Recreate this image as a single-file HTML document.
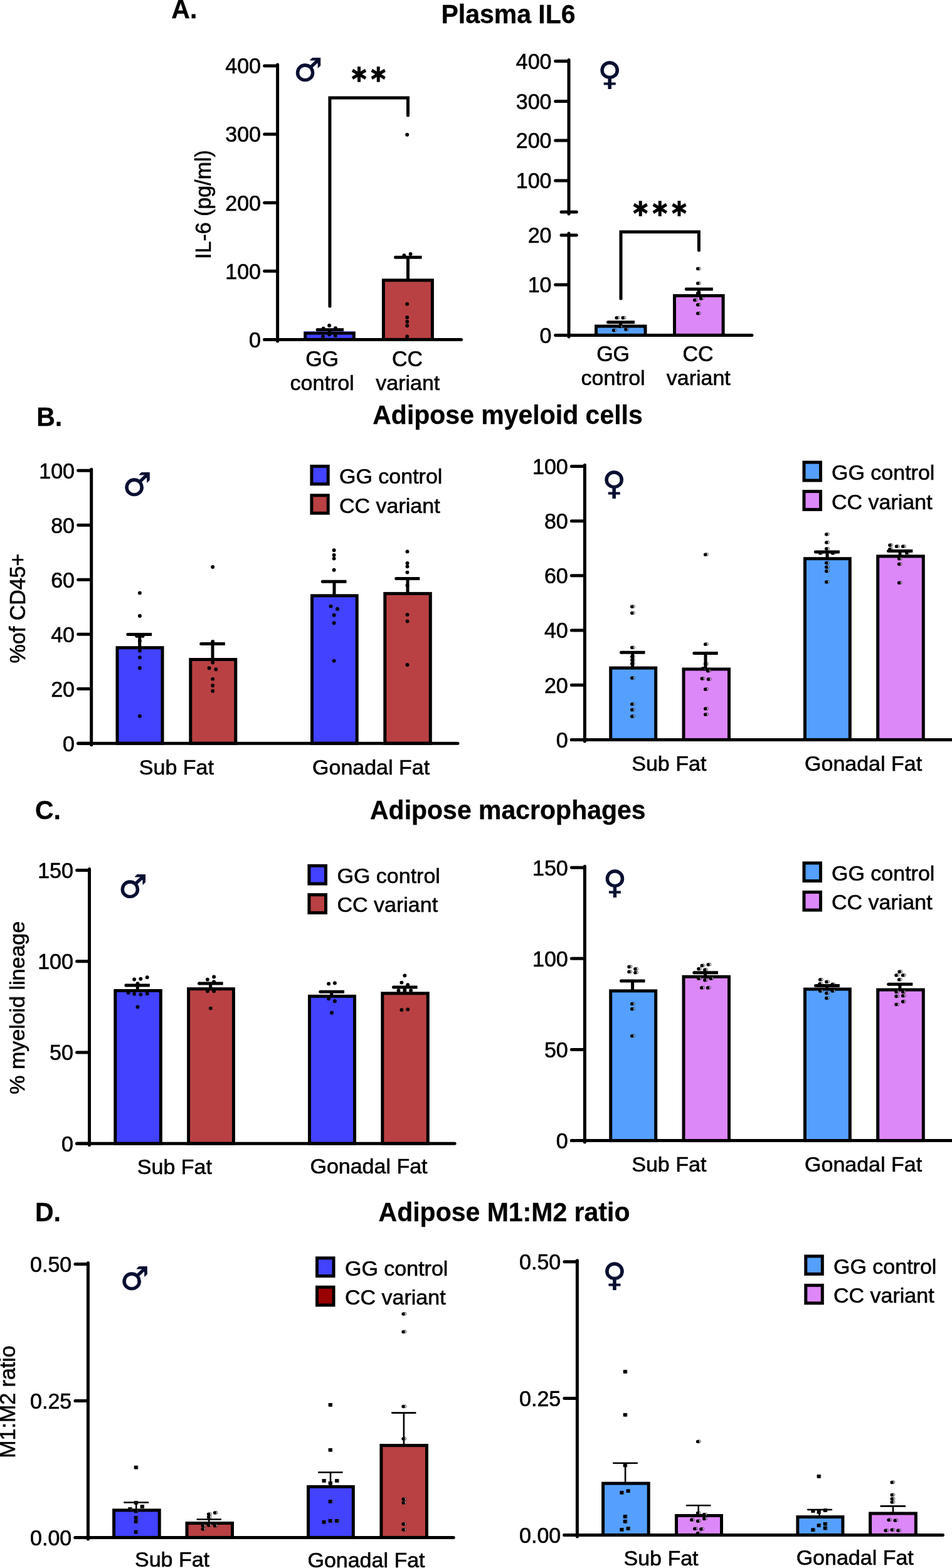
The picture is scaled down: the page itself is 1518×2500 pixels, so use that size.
<!DOCTYPE html>
<html lang="en">
<head>
<meta charset="utf-8">
<title>Figure: Plasma IL6 and adipose myeloid cells</title>
<style>
html,body{margin:0;padding:0;background:#fff;}
body{width:1518px;}
svg{display:block;}
svg text{font-family:"Liberation Sans", Arial, Helvetica, sans-serif;}
</style>
</head>
<body>
<svg width="1518" height="2500" viewBox="0 0 1518 2500" role="img" aria-label="Bar charts of plasma IL6 and adipose myeloid cells, macrophages and M1:M2 ratio in GG control and CC variant mice">
<rect width="1518" height="2500" fill="#fff"/>
<text transform="translate(273.3 29.4) scale(1 1.04)" font-size="41" text-anchor="start" stroke="#000" stroke-width="0.3" font-weight="bold">A.</text>
<text transform="translate(810.5 37.3) scale(1 1.02)" font-size="41" text-anchor="middle" stroke="#000" stroke-width="0.3" font-weight="bold">Plasma IL6</text>
<text transform="translate(58.2 679.3) scale(1 1.04)" font-size="41" text-anchor="start" stroke="#000" stroke-width="0.3" font-weight="bold">B.</text>
<text transform="translate(809.5 676) scale(1 1.015)" font-size="41" text-anchor="middle" stroke="#000" stroke-width="0.3" font-weight="bold">Adipose myeloid cells</text>
<text transform="translate(56 1305.6) scale(1 1.04)" font-size="41" text-anchor="start" stroke="#000" stroke-width="0.3" font-weight="bold">C.</text>
<text transform="translate(809.8 1306) scale(1 1.015)" font-size="41" text-anchor="middle" stroke="#000" stroke-width="0.3" font-weight="bold">Adipose macrophages</text>
<text transform="translate(56 1946.8) scale(1 1.04)" font-size="41" text-anchor="start" stroke="#000" stroke-width="0.3" font-weight="bold">D.</text>
<text transform="translate(804 1946.8) scale(1 1.02)" font-size="41" text-anchor="middle" stroke="#000" stroke-width="0.3" font-weight="bold">Adipose M1:M2 ratio</text>
<rect x="486.7" y="531.1" width="77.6" height="10.3" fill="#4242ff" stroke="#000" stroke-width="5"/>
<line x1="484.6" y1="528.5" x2="566.4" y2="528.5" stroke="#6c6cf7" stroke-width="0.9" stroke-linecap="butt"/>
<rect x="611.4" y="446.8" width="78" height="94.6" fill="#b94144" stroke="#000" stroke-width="5"/>
<circle cx="649.2" cy="214.7" r="2.95"/>
<circle cx="644.4" cy="407.3" r="2.95"/>
<circle cx="654.6" cy="404.9" r="2.95"/>
<circle cx="649.2" cy="484.8" r="2.95"/>
<circle cx="649.2" cy="506" r="2.95"/>
<circle cx="649.2" cy="512.7" r="2.95"/>
<circle cx="649.2" cy="519.2" r="2.95"/>
<circle cx="649.2" cy="536.5" r="2.95"/>
<circle cx="525.1" cy="519" r="2.95"/>
<circle cx="515" cy="536.5" r="2.95"/>
<circle cx="525.1" cy="533.6" r="2.95"/>
<circle cx="534.7" cy="535.3" r="2.95"/>
<circle cx="515.7" cy="523.7" r="2.95"/>
<circle cx="535" cy="523.3" r="2.95"/>
<line x1="525.6" y1="525.7" x2="525.6" y2="530" stroke="#000" stroke-width="5" stroke-linecap="butt"/>
<line x1="506" y1="525.7" x2="548" y2="525.7" stroke="#000" stroke-width="5" stroke-linecap="butt"/>
<circle cx="506" cy="525.7" r="2.5"/>
<line x1="650.5" y1="410.2" x2="650.5" y2="446" stroke="#000" stroke-width="5" stroke-linecap="butt"/>
<line x1="630.5" y1="410.2" x2="672.6" y2="410.2" stroke="#000" stroke-width="5" stroke-linecap="butt"/>
<circle cx="630.5" cy="410.2" r="2.5"/>
<line x1="421.7" y1="541.4" x2="735.5" y2="541.4" stroke="#000" stroke-width="5" stroke-linecap="round"/>
<line x1="442.6" y1="103" x2="442.6" y2="543.9" stroke="#000" stroke-width="5" stroke-linecap="round"/>
<line x1="421.7" y1="105" x2="441.6" y2="105" stroke="#000" stroke-width="5" stroke-linecap="round"/>
<text transform="translate(416 117.3) scale(1 1.04)" font-size="34" text-anchor="end" stroke="#000" stroke-width="0.6">400</text>
<line x1="421.7" y1="214.1" x2="441.6" y2="214.1" stroke="#000" stroke-width="5" stroke-linecap="round"/>
<text transform="translate(416 226.4) scale(1 1.04)" font-size="34" text-anchor="end" stroke="#000" stroke-width="0.6">300</text>
<line x1="421.7" y1="323.2" x2="441.6" y2="323.2" stroke="#000" stroke-width="5" stroke-linecap="round"/>
<text transform="translate(416 335.5) scale(1 1.04)" font-size="34" text-anchor="end" stroke="#000" stroke-width="0.6">200</text>
<line x1="421.7" y1="432.3" x2="441.6" y2="432.3" stroke="#000" stroke-width="5" stroke-linecap="round"/>
<text transform="translate(416 444.6) scale(1 1.04)" font-size="34" text-anchor="end" stroke="#000" stroke-width="0.6">100</text>
<line x1="421.7" y1="541.4" x2="441.6" y2="541.4" stroke="#000" stroke-width="5" stroke-linecap="round"/>
<text transform="translate(416 553.7) scale(1 1.04)" font-size="34" text-anchor="end" stroke="#000" stroke-width="0.6">0</text>
<polyline points="525.9,488.3 525.9,155.9 650.5,155.9 650.5,183.9" fill="none" stroke="#000" stroke-width="5" stroke-linecap="round" stroke-linejoin="miter"/>
<text transform="translate(558.89 143.91) scale(0.9 1)" x="0 34.44" y="0" font-size="50" font-weight="bold" stroke="#000" stroke-width="1.3" style="font-family:&quot;DejaVu Sans Mono&quot;,monospace">**</text>
<text x="468.3" y="128.7" font-size="51" fill="#070e30" stroke="#070e30" stroke-width="1" stroke-linejoin="round" style="font-family:&quot;DejaVu Sans&quot;,sans-serif">♂</text>
<text transform="translate(336.4 326) rotate(-90) scale(1 1.02)" font-size="34" text-anchor="middle" stroke="#000" stroke-width="0.6">IL-6 (pg/ml)</text>
<text transform="translate(513.6 583.6) scale(1 1.04)" font-size="34" text-anchor="middle" stroke="#000" stroke-width="0.6">GG</text>
<text transform="translate(513.6 621.8) scale(1 1.0)" font-size="34" text-anchor="middle" stroke="#000" stroke-width="0.6">control</text>
<text transform="translate(649.5 583.6) scale(1 1.04)" font-size="34" text-anchor="middle" stroke="#000" stroke-width="0.6">CC</text>
<text transform="translate(650.3 621.8) scale(1 1.0)" font-size="34" text-anchor="middle" stroke="#000" stroke-width="0.6">variant</text>
<line x1="907" y1="95.6" x2="907" y2="341" stroke="#000" stroke-width="5" stroke-linecap="round"/>
<line x1="885.7" y1="97.6" x2="906" y2="97.6" stroke="#000" stroke-width="5" stroke-linecap="round"/>
<text transform="translate(879.5 109.8) scale(1 1.04)" font-size="34" text-anchor="end" stroke="#000" stroke-width="0.6">400</text>
<line x1="885.7" y1="161.5" x2="906" y2="161.5" stroke="#000" stroke-width="5" stroke-linecap="round"/>
<text transform="translate(879.5 173.7) scale(1 1.04)" font-size="34" text-anchor="end" stroke="#000" stroke-width="0.6">300</text>
<line x1="885.7" y1="224.1" x2="906" y2="224.1" stroke="#000" stroke-width="5" stroke-linecap="round"/>
<text transform="translate(879.5 236.3) scale(1 1.04)" font-size="34" text-anchor="end" stroke="#000" stroke-width="0.6">200</text>
<line x1="885.7" y1="288" x2="906" y2="288" stroke="#000" stroke-width="5" stroke-linecap="round"/>
<text transform="translate(879.5 300.2) scale(1 1.04)" font-size="34" text-anchor="end" stroke="#000" stroke-width="0.6">100</text>
<line x1="895" y1="338" x2="919.3" y2="338" stroke="#000" stroke-width="5" stroke-linecap="round"/>
<line x1="895" y1="375" x2="919.3" y2="375" stroke="#000" stroke-width="5" stroke-linecap="round"/>
<line x1="907" y1="372" x2="907" y2="537" stroke="#000" stroke-width="5" stroke-linecap="round"/>
<text transform="translate(879.5 387.2) scale(1 1.04)" font-size="34" text-anchor="end" stroke="#000" stroke-width="0.6">20</text>
<line x1="885.7" y1="454" x2="906" y2="454" stroke="#000" stroke-width="5" stroke-linecap="round"/>
<text transform="translate(879.5 466.2) scale(1 1.04)" font-size="34" text-anchor="end" stroke="#000" stroke-width="0.6">10</text>
<text transform="translate(879.5 546.6) scale(1 1.04)" font-size="34" text-anchor="end" stroke="#000" stroke-width="0.6">0</text>
<rect x="950.5" y="520.1" width="78.5" height="14.3" fill="#55a0ff" stroke="#000" stroke-width="5"/>
<rect x="1075.5" y="471.5" width="77.6" height="62.9" fill="#dd88f9" stroke="#000" stroke-width="5"/>
<circle cx="1115" cy="428.2" r="2.4" fill="#fff" fill-opacity="0.55" stroke="#000" stroke-width="0.65"/><circle cx="1112.7" cy="428.5" r="2.75"/>
<circle cx="1115" cy="451.5" r="2.4" fill="#fff" fill-opacity="0.55" stroke="#000" stroke-width="0.65"/><circle cx="1112.7" cy="451.8" r="2.75"/>
<circle cx="1115" cy="467.3" r="2.4" fill="#fff" fill-opacity="0.55" stroke="#000" stroke-width="0.65"/><circle cx="1112.7" cy="467.6" r="2.75"/>
<circle cx="1110" cy="478.2" r="2.4" fill="#fff" fill-opacity="0.55" stroke="#000" stroke-width="0.65"/><circle cx="1107.7" cy="478.5" r="2.75"/>
<circle cx="1120" cy="475.6" r="2.4" fill="#fff" fill-opacity="0.55" stroke="#000" stroke-width="0.65"/><circle cx="1117.7" cy="475.9" r="2.75"/>
<circle cx="1115" cy="485.6" r="2.4" fill="#fff" fill-opacity="0.55" stroke="#000" stroke-width="0.65"/><circle cx="1112.7" cy="485.9" r="2.75"/>
<circle cx="1115" cy="499.4" r="2.4" fill="#fff" fill-opacity="0.55" stroke="#000" stroke-width="0.65"/><circle cx="1112.7" cy="499.7" r="2.75"/>
<circle cx="985.5" cy="506.5" r="2.4" fill="#fff" fill-opacity="0.55" stroke="#000" stroke-width="0.65"/><circle cx="983.2" cy="506.8" r="2.75"/>
<circle cx="995.5" cy="506.5" r="2.4" fill="#fff" fill-opacity="0.55" stroke="#000" stroke-width="0.65"/><circle cx="993.2" cy="506.8" r="2.75"/>
<circle cx="980.8" cy="526.5" r="2.4" fill="#fff" fill-opacity="0.55" stroke="#000" stroke-width="0.65"/><circle cx="978.5" cy="526.8" r="2.75"/>
<circle cx="1000.2" cy="525" r="2.4" fill="#fff" fill-opacity="0.55" stroke="#000" stroke-width="0.65"/><circle cx="997.9" cy="525.3" r="2.75"/>
<circle cx="990.2" cy="520.3" r="2.4" fill="#fff" fill-opacity="0.55" stroke="#000" stroke-width="0.65"/><circle cx="987.9" cy="520.6" r="2.75"/>
<line x1="989.7" y1="513.8" x2="989.7" y2="519" stroke="#000" stroke-width="5" stroke-linecap="butt"/>
<line x1="969.5" y1="513.8" x2="1012" y2="513.8" stroke="#000" stroke-width="5" stroke-linecap="butt"/>
<circle cx="969.5" cy="513.8" r="2.5"/>
<line x1="1114.3" y1="460.9" x2="1114.3" y2="471" stroke="#000" stroke-width="5" stroke-linecap="butt"/>
<line x1="1094.3" y1="460.9" x2="1136.8" y2="460.9" stroke="#000" stroke-width="5" stroke-linecap="butt"/>
<circle cx="1094.3" cy="460.9" r="2.5"/>
<line x1="885.7" y1="534.4" x2="1199" y2="534.4" stroke="#000" stroke-width="5" stroke-linecap="round"/>
<polyline points="990,476 990,369.7 1114.4,369.7 1114.4,399" fill="none" stroke="#000" stroke-width="5" stroke-linecap="round" stroke-linejoin="miter"/>
<text transform="translate(1007.79 358.41) scale(0.9 1)" x="0 34.33 68.67" y="0" font-size="50" font-weight="bold" stroke="#000" stroke-width="1.3" style="font-family:&quot;DejaVu Sans Mono&quot;,monospace">***</text>
<text x="953.4" y="134.9" font-size="51" fill="#070e30" stroke="#070e30" stroke-width="1" stroke-linejoin="round" style="font-family:&quot;DejaVu Sans&quot;,sans-serif">♀</text>
<text transform="translate(977.6 576) scale(1 1.04)" font-size="34" text-anchor="middle" stroke="#000" stroke-width="0.6">GG</text>
<text transform="translate(977.6 614.4) scale(1 1.0)" font-size="34" text-anchor="middle" stroke="#000" stroke-width="0.6">control</text>
<text transform="translate(1113 576) scale(1 1.04)" font-size="34" text-anchor="middle" stroke="#000" stroke-width="0.6">CC</text>
<text transform="translate(1113.8 614.4) scale(1 1.0)" font-size="34" text-anchor="middle" stroke="#000" stroke-width="0.6">variant</text>
<rect x="187" y="1032.7" width="72" height="152.5" fill="#4242ff" stroke="#000" stroke-width="5"/>
<rect x="303.8" y="1051.5" width="72" height="133.7" fill="#b94144" stroke="#000" stroke-width="5"/>
<rect x="497.5" y="949.8" width="71.7" height="235.4" fill="#4242ff" stroke="#000" stroke-width="5"/>
<rect x="613.8" y="946.4" width="72.5" height="238.8" fill="#b94144" stroke="#000" stroke-width="5"/>
<circle cx="222.9" cy="945.4" r="2.95"/>
<circle cx="222.9" cy="982" r="2.95"/>
<circle cx="218.2" cy="1014" r="2.95"/>
<circle cx="227.5" cy="1014" r="2.95"/>
<circle cx="222.9" cy="1022" r="2.95"/>
<circle cx="222.9" cy="1037.6" r="2.95"/>
<circle cx="222.9" cy="1048.3" r="2.95"/>
<circle cx="222.9" cy="1065" r="2.95"/>
<circle cx="222.9" cy="1141.7" r="2.95"/>
<circle cx="339.2" cy="904" r="2.95"/>
<circle cx="339.2" cy="1023" r="2.95"/>
<circle cx="339.2" cy="1056.4" r="2.95"/>
<circle cx="333.6" cy="1065.2" r="2.95"/>
<circle cx="344.3" cy="1067.3" r="2.95"/>
<circle cx="339.2" cy="1082.6" r="2.95"/>
<circle cx="339.2" cy="1093" r="2.95"/>
<circle cx="339.2" cy="1101.8" r="2.95"/>
<circle cx="532.6" cy="877.3" r="2.95"/>
<circle cx="532.6" cy="885" r="2.95"/>
<circle cx="532.6" cy="890.6" r="2.95"/>
<circle cx="532.6" cy="908.8" r="2.95"/>
<circle cx="527.5" cy="966.6" r="2.95"/>
<circle cx="538" cy="970.9" r="2.95"/>
<circle cx="532.6" cy="980.7" r="2.95"/>
<circle cx="532.6" cy="993.3" r="2.95"/>
<circle cx="532.6" cy="1053.6" r="2.95"/>
<circle cx="649.5" cy="879.4" r="2.95"/>
<circle cx="649.5" cy="897.9" r="2.95"/>
<circle cx="649.5" cy="903.2" r="2.95"/>
<circle cx="649.5" cy="912.6" r="2.95"/>
<circle cx="649.5" cy="933.2" r="2.95"/>
<circle cx="649.5" cy="980" r="2.95"/>
<circle cx="649.5" cy="990.6" r="2.95"/>
<circle cx="649.5" cy="1060" r="2.95"/>
<line x1="222.7" y1="1011.4" x2="222.7" y2="1032" stroke="#000" stroke-width="5" stroke-linecap="butt"/>
<line x1="203.8" y1="1011.4" x2="242" y2="1011.4" stroke="#000" stroke-width="5" stroke-linecap="butt"/>
<circle cx="203.8" cy="1011.4" r="2.5"/>
<line x1="339" y1="1026.4" x2="339" y2="1051" stroke="#000" stroke-width="5" stroke-linecap="butt"/>
<line x1="320.7" y1="1026.4" x2="358.8" y2="1026.4" stroke="#000" stroke-width="5" stroke-linecap="butt"/>
<circle cx="320.7" cy="1026.4" r="2.5"/>
<line x1="533" y1="927.3" x2="533" y2="949" stroke="#000" stroke-width="5" stroke-linecap="butt"/>
<line x1="514.3" y1="927.3" x2="552.5" y2="927.3" stroke="#000" stroke-width="5" stroke-linecap="butt"/>
<circle cx="514.3" cy="927.3" r="2.5"/>
<line x1="650" y1="922.5" x2="650" y2="946" stroke="#000" stroke-width="5" stroke-linecap="butt"/>
<line x1="631.7" y1="922.5" x2="669.3" y2="922.5" stroke="#000" stroke-width="5" stroke-linecap="butt"/>
<circle cx="631.7" cy="922.5" r="2.5"/>
<line x1="124.7" y1="1185.2" x2="729.9" y2="1185.2" stroke="#000" stroke-width="5" stroke-linecap="round"/>
<line x1="145.7" y1="748.2" x2="145.7" y2="1187.7" stroke="#000" stroke-width="5" stroke-linecap="round"/>
<line x1="124.7" y1="750.2" x2="144.7" y2="750.2" stroke="#000" stroke-width="5" stroke-linecap="round"/>
<text transform="translate(119 762.5) scale(1 1.04)" font-size="34" text-anchor="end" stroke="#000" stroke-width="0.6">100</text>
<line x1="124.7" y1="837.2" x2="144.7" y2="837.2" stroke="#000" stroke-width="5" stroke-linecap="round"/>
<text transform="translate(119 849.5) scale(1 1.04)" font-size="34" text-anchor="end" stroke="#000" stroke-width="0.6">80</text>
<line x1="124.7" y1="924.2" x2="144.7" y2="924.2" stroke="#000" stroke-width="5" stroke-linecap="round"/>
<text transform="translate(119 936.5) scale(1 1.04)" font-size="34" text-anchor="end" stroke="#000" stroke-width="0.6">60</text>
<line x1="124.7" y1="1011.2" x2="144.7" y2="1011.2" stroke="#000" stroke-width="5" stroke-linecap="round"/>
<text transform="translate(119 1023.5) scale(1 1.04)" font-size="34" text-anchor="end" stroke="#000" stroke-width="0.6">40</text>
<line x1="124.7" y1="1098.2" x2="144.7" y2="1098.2" stroke="#000" stroke-width="5" stroke-linecap="round"/>
<text transform="translate(119 1110.5) scale(1 1.04)" font-size="34" text-anchor="end" stroke="#000" stroke-width="0.6">20</text>
<line x1="124.7" y1="1185.2" x2="144.7" y2="1185.2" stroke="#000" stroke-width="5" stroke-linecap="round"/>
<text transform="translate(119 1197.5) scale(1 1.04)" font-size="34" text-anchor="end" stroke="#000" stroke-width="0.6">0</text>
<text x="195.8" y="790" font-size="51" fill="#070e30" stroke="#070e30" stroke-width="1" stroke-linejoin="round" style="font-family:&quot;DejaVu Sans&quot;,sans-serif">♂</text>
<rect x="496.9" y="743.4" width="26.3" height="28.4" fill="#4242ff" stroke="#000" stroke-width="5"/>
<rect x="496.9" y="789.8" width="26.3" height="28.4" fill="#b94144" stroke="#000" stroke-width="5"/>
<text transform="translate(541 771.4) scale(1 1.0)" font-size="34" text-anchor="start" stroke="#000" stroke-width="0.6">GG control</text>
<text transform="translate(541 817.6) scale(1 1.0)" font-size="34" text-anchor="start" stroke="#000" stroke-width="0.6">CC variant</text>
<text transform="translate(40 970) rotate(-90) scale(1 1.04)" font-size="34" text-anchor="middle" stroke="#000" stroke-width="0.6">%of CD45+</text>
<text transform="translate(281.4 1235) scale(1 1.0)" font-size="34" text-anchor="middle" stroke="#000" stroke-width="0.6">Sub Fat</text>
<text transform="translate(591.6 1235) scale(1 1.0)" font-size="34" text-anchor="middle" stroke="#000" stroke-width="0.6">Gonadal Fat</text>
<rect x="973.7" y="1065" width="72" height="114.4" fill="#55a0ff" stroke="#000" stroke-width="5"/>
<rect x="1090" y="1066.9" width="72.5" height="112.5" fill="#dd88f9" stroke="#000" stroke-width="5"/>
<rect x="1283.5" y="890.7" width="71.8" height="288.7" fill="#55a0ff" stroke="#000" stroke-width="5"/>
<rect x="1399.7" y="886.9" width="72.6" height="292.5" fill="#dd88f9" stroke="#000" stroke-width="5"/>
<circle cx="1127" cy="883.9" r="2.4" fill="#fff" fill-opacity="0.55" stroke="#000" stroke-width="0.65"/><circle cx="1124.7" cy="884.2" r="2.75"/>
<circle cx="1010" cy="967" r="2.4" fill="#fff" fill-opacity="0.55" stroke="#000" stroke-width="0.65"/><circle cx="1007.7" cy="967.3" r="2.75"/>
<circle cx="1010" cy="977.2" r="2.4" fill="#fff" fill-opacity="0.55" stroke="#000" stroke-width="0.65"/><circle cx="1007.7" cy="977.5" r="2.75"/>
<circle cx="1010" cy="1032.3" r="2.4" fill="#fff" fill-opacity="0.55" stroke="#000" stroke-width="0.65"/><circle cx="1007.7" cy="1032.6" r="2.75"/>
<circle cx="1010" cy="1046.7" r="2.4" fill="#fff" fill-opacity="0.55" stroke="#000" stroke-width="0.65"/><circle cx="1007.7" cy="1047" r="2.75"/>
<circle cx="1010" cy="1052.1" r="2.4" fill="#fff" fill-opacity="0.55" stroke="#000" stroke-width="0.65"/><circle cx="1007.7" cy="1052.4" r="2.75"/>
<circle cx="1010" cy="1057.9" r="2.4" fill="#fff" fill-opacity="0.55" stroke="#000" stroke-width="0.65"/><circle cx="1007.7" cy="1058.2" r="2.75"/>
<circle cx="1010" cy="1080.7" r="2.4" fill="#fff" fill-opacity="0.55" stroke="#000" stroke-width="0.65"/><circle cx="1007.7" cy="1081" r="2.75"/>
<circle cx="1010" cy="1122.4" r="2.4" fill="#fff" fill-opacity="0.55" stroke="#000" stroke-width="0.65"/><circle cx="1007.7" cy="1122.7" r="2.75"/>
<circle cx="1010" cy="1131.5" r="2.4" fill="#fff" fill-opacity="0.55" stroke="#000" stroke-width="0.65"/><circle cx="1007.7" cy="1131.8" r="2.75"/>
<circle cx="1010" cy="1141.9" r="2.4" fill="#fff" fill-opacity="0.55" stroke="#000" stroke-width="0.65"/><circle cx="1007.7" cy="1142.2" r="2.75"/>
<circle cx="1127" cy="1026.9" r="2.4" fill="#fff" fill-opacity="0.55" stroke="#000" stroke-width="0.65"/><circle cx="1124.7" cy="1027.2" r="2.75"/>
<circle cx="1127" cy="1058.2" r="2.4" fill="#fff" fill-opacity="0.55" stroke="#000" stroke-width="0.65"/><circle cx="1124.7" cy="1058.5" r="2.75"/>
<circle cx="1123" cy="1065.4" r="2.4" fill="#fff" fill-opacity="0.55" stroke="#000" stroke-width="0.65"/><circle cx="1120.7" cy="1065.7" r="2.75"/>
<circle cx="1131" cy="1069.4" r="2.4" fill="#fff" fill-opacity="0.55" stroke="#000" stroke-width="0.65"/><circle cx="1128.7" cy="1069.7" r="2.75"/>
<circle cx="1121.6" cy="1081.7" r="2.4" fill="#fff" fill-opacity="0.55" stroke="#000" stroke-width="0.65"/><circle cx="1119.3" cy="1082" r="2.75"/>
<circle cx="1131.7" cy="1082.8" r="2.4" fill="#fff" fill-opacity="0.55" stroke="#000" stroke-width="0.65"/><circle cx="1129.4" cy="1083.1" r="2.75"/>
<circle cx="1127" cy="1098.6" r="2.4" fill="#fff" fill-opacity="0.55" stroke="#000" stroke-width="0.65"/><circle cx="1124.7" cy="1098.9" r="2.75"/>
<circle cx="1127" cy="1129.6" r="2.4" fill="#fff" fill-opacity="0.55" stroke="#000" stroke-width="0.65"/><circle cx="1124.7" cy="1129.9" r="2.75"/>
<circle cx="1127" cy="1139" r="2.4" fill="#fff" fill-opacity="0.55" stroke="#000" stroke-width="0.65"/><circle cx="1124.7" cy="1139.3" r="2.75"/>
<circle cx="1320" cy="851.6" r="2.4" fill="#fff" fill-opacity="0.55" stroke="#000" stroke-width="0.65"/><circle cx="1317.7" cy="851.9" r="2.75"/>
<circle cx="1320" cy="864.7" r="2.4" fill="#fff" fill-opacity="0.55" stroke="#000" stroke-width="0.65"/><circle cx="1317.7" cy="865" r="2.75"/>
<circle cx="1320" cy="874.8" r="2.4" fill="#fff" fill-opacity="0.55" stroke="#000" stroke-width="0.65"/><circle cx="1317.7" cy="875.1" r="2.75"/>
<circle cx="1310" cy="881.7" r="2.4" fill="#fff" fill-opacity="0.55" stroke="#000" stroke-width="0.65"/><circle cx="1307.7" cy="882" r="2.75"/>
<circle cx="1330" cy="881.7" r="2.4" fill="#fff" fill-opacity="0.55" stroke="#000" stroke-width="0.65"/><circle cx="1327.7" cy="882" r="2.75"/>
<circle cx="1448" cy="881.2" r="2.4" fill="#fff" fill-opacity="0.55" stroke="#000" stroke-width="0.65"/><circle cx="1445.7" cy="881.5" r="2.75"/>
<circle cx="1320" cy="897.3" r="2.4" fill="#fff" fill-opacity="0.55" stroke="#000" stroke-width="0.65"/><circle cx="1317.7" cy="897.6" r="2.75"/>
<circle cx="1320" cy="903.9" r="2.4" fill="#fff" fill-opacity="0.55" stroke="#000" stroke-width="0.65"/><circle cx="1317.7" cy="904.2" r="2.75"/>
<circle cx="1320" cy="910.4" r="2.4" fill="#fff" fill-opacity="0.55" stroke="#000" stroke-width="0.65"/><circle cx="1317.7" cy="910.7" r="2.75"/>
<circle cx="1320" cy="927.6" r="2.4" fill="#fff" fill-opacity="0.55" stroke="#000" stroke-width="0.65"/><circle cx="1317.7" cy="927.9" r="2.75"/>
<circle cx="1421.2" cy="869" r="2.4" fill="#fff" fill-opacity="0.55" stroke="#000" stroke-width="0.65"/><circle cx="1418.9" cy="869.3" r="2.75"/>
<circle cx="1431.8" cy="871" r="2.4" fill="#fff" fill-opacity="0.55" stroke="#000" stroke-width="0.65"/><circle cx="1429.5" cy="871.3" r="2.75"/>
<circle cx="1442" cy="871" r="2.4" fill="#fff" fill-opacity="0.55" stroke="#000" stroke-width="0.65"/><circle cx="1439.7" cy="871.3" r="2.75"/>
<circle cx="1421.2" cy="875.3" r="2.4" fill="#fff" fill-opacity="0.55" stroke="#000" stroke-width="0.65"/><circle cx="1418.9" cy="875.6" r="2.75"/>
<circle cx="1435.9" cy="890.5" r="2.4" fill="#fff" fill-opacity="0.55" stroke="#000" stroke-width="0.65"/><circle cx="1433.6" cy="890.8" r="2.75"/>
<circle cx="1435.9" cy="899.3" r="2.4" fill="#fff" fill-opacity="0.55" stroke="#000" stroke-width="0.65"/><circle cx="1433.6" cy="899.6" r="2.75"/>
<circle cx="1435.9" cy="928.9" r="2.4" fill="#fff" fill-opacity="0.55" stroke="#000" stroke-width="0.65"/><circle cx="1433.6" cy="929.2" r="2.75"/>
<line x1="1008.6" y1="1040.3" x2="1008.6" y2="1064" stroke="#000" stroke-width="5" stroke-linecap="butt"/>
<line x1="990.5" y1="1040.3" x2="1028.5" y2="1040.3" stroke="#000" stroke-width="5" stroke-linecap="butt"/>
<circle cx="990.5" cy="1040.3" r="2.5"/>
<line x1="1125" y1="1041.4" x2="1125" y2="1066" stroke="#000" stroke-width="5" stroke-linecap="butt"/>
<line x1="1106.8" y1="1041.4" x2="1144.7" y2="1041.4" stroke="#000" stroke-width="5" stroke-linecap="butt"/>
<circle cx="1106.8" cy="1041.4" r="2.5"/>
<line x1="1319" y1="879.9" x2="1319" y2="890" stroke="#000" stroke-width="5" stroke-linecap="butt"/>
<line x1="1300.4" y1="879.9" x2="1338.9" y2="879.9" stroke="#000" stroke-width="5" stroke-linecap="butt"/>
<circle cx="1300.4" cy="879.9" r="2.5"/>
<line x1="1435" y1="878.6" x2="1435" y2="886" stroke="#000" stroke-width="5" stroke-linecap="butt"/>
<line x1="1416.5" y1="878.6" x2="1455.3" y2="878.6" stroke="#000" stroke-width="5" stroke-linecap="butt"/>
<circle cx="1416.5" cy="878.6" r="2.5"/>
<line x1="911.4" y1="1179.4" x2="1522.5" y2="1179.4" stroke="#000" stroke-width="5" stroke-linecap="round"/>
<line x1="932.4" y1="741.5" x2="932.4" y2="1181.9" stroke="#000" stroke-width="5" stroke-linecap="round"/>
<line x1="911.4" y1="743.5" x2="931.4" y2="743.5" stroke="#000" stroke-width="5" stroke-linecap="round"/>
<text transform="translate(905.7 755.8) scale(1 1.04)" font-size="34" text-anchor="end" stroke="#000" stroke-width="0.6">100</text>
<line x1="911.4" y1="830.68" x2="931.4" y2="830.68" stroke="#000" stroke-width="5" stroke-linecap="round"/>
<text transform="translate(905.7 842.98) scale(1 1.04)" font-size="34" text-anchor="end" stroke="#000" stroke-width="0.6">80</text>
<line x1="911.4" y1="917.86" x2="931.4" y2="917.86" stroke="#000" stroke-width="5" stroke-linecap="round"/>
<text transform="translate(905.7 930.16) scale(1 1.04)" font-size="34" text-anchor="end" stroke="#000" stroke-width="0.6">60</text>
<line x1="911.4" y1="1005.04" x2="931.4" y2="1005.04" stroke="#000" stroke-width="5" stroke-linecap="round"/>
<text transform="translate(905.7 1017.34) scale(1 1.04)" font-size="34" text-anchor="end" stroke="#000" stroke-width="0.6">40</text>
<line x1="911.4" y1="1092.22" x2="931.4" y2="1092.22" stroke="#000" stroke-width="5" stroke-linecap="round"/>
<text transform="translate(905.7 1104.52) scale(1 1.04)" font-size="34" text-anchor="end" stroke="#000" stroke-width="0.6">20</text>
<line x1="911.4" y1="1179.4" x2="931.4" y2="1179.4" stroke="#000" stroke-width="5" stroke-linecap="round"/>
<text transform="translate(905.7 1191.7) scale(1 1.04)" font-size="34" text-anchor="end" stroke="#000" stroke-width="0.6">0</text>
<text x="960.5" y="787.7" font-size="51" fill="#070e30" stroke="#070e30" stroke-width="1" stroke-linejoin="round" style="font-family:&quot;DejaVu Sans&quot;,sans-serif">♀</text>
<rect x="1282" y="737.1" width="26.5" height="28.9" fill="#55a0ff" stroke="#000" stroke-width="5"/>
<rect x="1282" y="783.5" width="26.5" height="28.9" fill="#dd88f9" stroke="#000" stroke-width="5"/>
<text transform="translate(1326 765.1) scale(1 1.0)" font-size="34" text-anchor="start" stroke="#000" stroke-width="0.6">GG control</text>
<text transform="translate(1326 811.8) scale(1 1.0)" font-size="34" text-anchor="start" stroke="#000" stroke-width="0.6">CC variant</text>
<text transform="translate(1066.8 1228.8) scale(1 1.0)" font-size="34" text-anchor="middle" stroke="#000" stroke-width="0.6">Sub Fat</text>
<text transform="translate(1376.6 1228.5) scale(1 1.0)" font-size="34" text-anchor="middle" stroke="#000" stroke-width="0.6">Gonadal Fat</text>
<rect x="183.8" y="1579.5" width="72.5" height="243.8" fill="#4242ff" stroke="#000" stroke-width="5"/>
<rect x="300.6" y="1576.7" width="71.8" height="246.6" fill="#b94144" stroke="#000" stroke-width="5"/>
<rect x="493.5" y="1588.4" width="72" height="234.9" fill="#4242ff" stroke="#000" stroke-width="5"/>
<rect x="609.8" y="1583.8" width="72.5" height="239.5" fill="#b94144" stroke="#000" stroke-width="5"/>
<circle cx="214.1" cy="1561.5" r="2.95"/>
<circle cx="224.3" cy="1560.7" r="2.95"/>
<circle cx="234.7" cy="1558.3" r="2.95"/>
<circle cx="219.5" cy="1568.2" r="2.95"/>
<circle cx="204.7" cy="1582.9" r="2.95"/>
<circle cx="214.1" cy="1584.8" r="2.95"/>
<circle cx="224.3" cy="1585.6" r="2.95"/>
<circle cx="234.7" cy="1584.2" r="2.95"/>
<circle cx="219.5" cy="1605.5" r="2.95"/>
<circle cx="341.1" cy="1557.5" r="2.95"/>
<circle cx="330.9" cy="1561.8" r="2.95"/>
<circle cx="341.1" cy="1565.5" r="2.95"/>
<circle cx="335.8" cy="1574.9" r="2.95"/>
<circle cx="330.9" cy="1580.2" r="2.95"/>
<circle cx="341.1" cy="1580.2" r="2.95"/>
<circle cx="335.8" cy="1607.6" r="2.95"/>
<circle cx="524.1" cy="1568.5" r="2.95"/>
<circle cx="533.9" cy="1567.4" r="2.95"/>
<circle cx="524.1" cy="1592.3" r="2.95"/>
<circle cx="533.9" cy="1596.3" r="2.95"/>
<circle cx="528.9" cy="1614.8" r="2.95"/>
<circle cx="645.4" cy="1555.4" r="2.95"/>
<circle cx="640.4" cy="1566.6" r="2.95"/>
<circle cx="650.2" cy="1570.1" r="2.95"/>
<circle cx="635.5" cy="1579.2" r="2.95"/>
<circle cx="645.4" cy="1579.2" r="2.95"/>
<circle cx="655.1" cy="1579.2" r="2.95"/>
<circle cx="640.4" cy="1610.2" r="2.95"/>
<circle cx="650.2" cy="1609.4" r="2.95"/>
<line x1="219.3" y1="1571" x2="219.3" y2="1579" stroke="#000" stroke-width="5" stroke-linecap="butt"/>
<line x1="200.9" y1="1571" x2="238.8" y2="1571" stroke="#000" stroke-width="5" stroke-linecap="butt"/>
<circle cx="200.9" cy="1571" r="2.5"/>
<line x1="335.6" y1="1568.1" x2="335.6" y2="1576" stroke="#000" stroke-width="5" stroke-linecap="butt"/>
<line x1="317.5" y1="1568.1" x2="355.6" y2="1568.1" stroke="#000" stroke-width="5" stroke-linecap="butt"/>
<circle cx="317.5" cy="1568.1" r="2.5"/>
<line x1="528.7" y1="1581.3" x2="528.7" y2="1588" stroke="#000" stroke-width="5" stroke-linecap="butt"/>
<line x1="510.8" y1="1581.3" x2="549" y2="1581.3" stroke="#000" stroke-width="5" stroke-linecap="butt"/>
<circle cx="510.8" cy="1581.3" r="2.5"/>
<line x1="645.2" y1="1574.1" x2="645.2" y2="1583" stroke="#000" stroke-width="5" stroke-linecap="butt"/>
<line x1="627.4" y1="1574.1" x2="665.6" y2="1574.1" stroke="#000" stroke-width="5" stroke-linecap="butt"/>
<circle cx="627.4" cy="1574.1" r="2.5"/>
<line x1="122.6" y1="1823.3" x2="725.1" y2="1823.3" stroke="#000" stroke-width="5" stroke-linecap="round"/>
<line x1="142.5" y1="1385.4" x2="142.5" y2="1825.8" stroke="#000" stroke-width="5" stroke-linecap="round"/>
<line x1="122.6" y1="1387.4" x2="141.5" y2="1387.4" stroke="#000" stroke-width="5" stroke-linecap="round"/>
<text transform="translate(116.9 1399.7) scale(1 1.04)" font-size="34" text-anchor="end" stroke="#000" stroke-width="0.6">150</text>
<line x1="122.6" y1="1532.7" x2="141.5" y2="1532.7" stroke="#000" stroke-width="5" stroke-linecap="round"/>
<text transform="translate(116.9 1545) scale(1 1.04)" font-size="34" text-anchor="end" stroke="#000" stroke-width="0.6">100</text>
<line x1="122.6" y1="1678" x2="141.5" y2="1678" stroke="#000" stroke-width="5" stroke-linecap="round"/>
<text transform="translate(116.9 1690.3) scale(1 1.04)" font-size="34" text-anchor="end" stroke="#000" stroke-width="0.6">50</text>
<line x1="122.6" y1="1823.3" x2="141.5" y2="1823.3" stroke="#000" stroke-width="5" stroke-linecap="round"/>
<text transform="translate(116.9 1835.6) scale(1 1.04)" font-size="34" text-anchor="end" stroke="#000" stroke-width="0.6">0</text>
<text x="189.1" y="1430.8" font-size="51" fill="#070e30" stroke="#070e30" stroke-width="1" stroke-linejoin="round" style="font-family:&quot;DejaVu Sans&quot;,sans-serif">♂</text>
<rect x="492.9" y="1380.4" width="26.6" height="28.7" fill="#4242ff" stroke="#000" stroke-width="5"/>
<rect x="492.9" y="1426.6" width="26.6" height="28.7" fill="#b94144" stroke="#000" stroke-width="5"/>
<text transform="translate(537.5 1408) scale(1 1.0)" font-size="34" text-anchor="start" stroke="#000" stroke-width="0.6">GG control</text>
<text transform="translate(537.5 1454.3) scale(1 1.0)" font-size="34" text-anchor="start" stroke="#000" stroke-width="0.6">CC variant</text>
<text transform="translate(38.5 1606.8) rotate(-90) scale(1 1.0)" font-size="34" text-anchor="middle" stroke="#000" stroke-width="0.6">% myeloid lineage</text>
<text transform="translate(278.4 1871.5) scale(1 1.0)" font-size="34" text-anchor="middle" stroke="#000" stroke-width="0.6">Sub Fat</text>
<text transform="translate(588 1871.4) scale(1 1.0)" font-size="34" text-anchor="middle" stroke="#000" stroke-width="0.6">Gonadal Fat</text>
<rect x="973.7" y="1579.9" width="72" height="238.69" fill="#55a0ff" stroke="#000" stroke-width="5"/>
<rect x="1090" y="1557.3" width="72.5" height="261.29" fill="#dd88f9" stroke="#000" stroke-width="5"/>
<rect x="1283.5" y="1577.1" width="71.8" height="241.49" fill="#55a0ff" stroke="#000" stroke-width="5"/>
<rect x="1399.7" y="1578.1" width="72.6" height="240.49" fill="#dd88f9" stroke="#000" stroke-width="5"/>
<circle cx="1005.3" cy="1541.1" r="2.4" fill="#fff" fill-opacity="0.55" stroke="#000" stroke-width="0.65"/><circle cx="1003" cy="1541.4" r="2.75"/>
<circle cx="1005.3" cy="1549.2" r="2.4" fill="#fff" fill-opacity="0.55" stroke="#000" stroke-width="0.65"/><circle cx="1003" cy="1549.5" r="2.75"/>
<circle cx="1015.2" cy="1544.6" r="2.4" fill="#fff" fill-opacity="0.55" stroke="#000" stroke-width="0.65"/><circle cx="1012.9" cy="1544.9" r="2.75"/>
<circle cx="1015.2" cy="1550.5" r="2.4" fill="#fff" fill-opacity="0.55" stroke="#000" stroke-width="0.65"/><circle cx="1012.9" cy="1550.8" r="2.75"/>
<circle cx="1010" cy="1600.3" r="2.4" fill="#fff" fill-opacity="0.55" stroke="#000" stroke-width="0.65"/><circle cx="1007.7" cy="1600.6" r="2.75"/>
<circle cx="1010" cy="1608.4" r="2.4" fill="#fff" fill-opacity="0.55" stroke="#000" stroke-width="0.65"/><circle cx="1007.7" cy="1608.7" r="2.75"/>
<circle cx="1010" cy="1651.4" r="2.4" fill="#fff" fill-opacity="0.55" stroke="#000" stroke-width="0.65"/><circle cx="1007.7" cy="1651.7" r="2.75"/>
<circle cx="1121.6" cy="1539.3" r="2.4" fill="#fff" fill-opacity="0.55" stroke="#000" stroke-width="0.65"/><circle cx="1119.3" cy="1539.6" r="2.75"/>
<circle cx="1131.5" cy="1537.7" r="2.4" fill="#fff" fill-opacity="0.55" stroke="#000" stroke-width="0.65"/><circle cx="1129.2" cy="1538" r="2.75"/>
<circle cx="1116.2" cy="1544.4" r="2.4" fill="#fff" fill-opacity="0.55" stroke="#000" stroke-width="0.65"/><circle cx="1113.9" cy="1544.7" r="2.75"/>
<circle cx="1126.1" cy="1546" r="2.4" fill="#fff" fill-opacity="0.55" stroke="#000" stroke-width="0.65"/><circle cx="1123.8" cy="1546.3" r="2.75"/>
<circle cx="1116.2" cy="1559.9" r="2.4" fill="#fff" fill-opacity="0.55" stroke="#000" stroke-width="0.65"/><circle cx="1113.9" cy="1560.2" r="2.75"/>
<circle cx="1126.1" cy="1562.5" r="2.4" fill="#fff" fill-opacity="0.55" stroke="#000" stroke-width="0.65"/><circle cx="1123.8" cy="1562.8" r="2.75"/>
<circle cx="1135.5" cy="1559.9" r="2.4" fill="#fff" fill-opacity="0.55" stroke="#000" stroke-width="0.65"/><circle cx="1133.2" cy="1560.2" r="2.75"/>
<circle cx="1121" cy="1574.6" r="2.4" fill="#fff" fill-opacity="0.55" stroke="#000" stroke-width="0.65"/><circle cx="1118.7" cy="1574.9" r="2.75"/>
<circle cx="1130.9" cy="1574.6" r="2.4" fill="#fff" fill-opacity="0.55" stroke="#000" stroke-width="0.65"/><circle cx="1128.6" cy="1574.9" r="2.75"/>
<circle cx="1310" cy="1561.7" r="2.4" fill="#fff" fill-opacity="0.55" stroke="#000" stroke-width="0.65"/><circle cx="1307.7" cy="1562" r="2.75"/>
<circle cx="1320.1" cy="1565.2" r="2.4" fill="#fff" fill-opacity="0.55" stroke="#000" stroke-width="0.65"/><circle cx="1317.8" cy="1565.5" r="2.75"/>
<circle cx="1309.3" cy="1568.5" r="2.4" fill="#fff" fill-opacity="0.55" stroke="#000" stroke-width="0.65"/><circle cx="1307" cy="1568.8" r="2.75"/>
<circle cx="1329.5" cy="1569.2" r="2.4" fill="#fff" fill-opacity="0.55" stroke="#000" stroke-width="0.65"/><circle cx="1327.2" cy="1569.5" r="2.75"/>
<circle cx="1310" cy="1579.8" r="2.4" fill="#fff" fill-opacity="0.55" stroke="#000" stroke-width="0.65"/><circle cx="1307.7" cy="1580.1" r="2.75"/>
<circle cx="1329.5" cy="1579.8" r="2.4" fill="#fff" fill-opacity="0.55" stroke="#000" stroke-width="0.65"/><circle cx="1327.2" cy="1580.1" r="2.75"/>
<circle cx="1320.1" cy="1583.1" r="2.4" fill="#fff" fill-opacity="0.55" stroke="#000" stroke-width="0.65"/><circle cx="1317.8" cy="1583.4" r="2.75"/>
<circle cx="1320.1" cy="1591.2" r="2.4" fill="#fff" fill-opacity="0.55" stroke="#000" stroke-width="0.65"/><circle cx="1317.8" cy="1591.5" r="2.75"/>
<circle cx="1436.4" cy="1549" r="2.4" fill="#fff" fill-opacity="0.55" stroke="#000" stroke-width="0.65"/><circle cx="1434.1" cy="1549.3" r="2.75"/>
<circle cx="1431.3" cy="1554.6" r="2.4" fill="#fff" fill-opacity="0.55" stroke="#000" stroke-width="0.65"/><circle cx="1429" cy="1554.9" r="2.75"/>
<circle cx="1441.9" cy="1554.6" r="2.4" fill="#fff" fill-opacity="0.55" stroke="#000" stroke-width="0.65"/><circle cx="1439.6" cy="1554.9" r="2.75"/>
<circle cx="1435.9" cy="1561.7" r="2.4" fill="#fff" fill-opacity="0.55" stroke="#000" stroke-width="0.65"/><circle cx="1433.6" cy="1562" r="2.75"/>
<circle cx="1431.3" cy="1581.1" r="2.4" fill="#fff" fill-opacity="0.55" stroke="#000" stroke-width="0.65"/><circle cx="1429" cy="1581.4" r="2.75"/>
<circle cx="1441.9" cy="1581.1" r="2.4" fill="#fff" fill-opacity="0.55" stroke="#000" stroke-width="0.65"/><circle cx="1439.6" cy="1581.4" r="2.75"/>
<circle cx="1431.3" cy="1588.2" r="2.4" fill="#fff" fill-opacity="0.55" stroke="#000" stroke-width="0.65"/><circle cx="1429" cy="1588.5" r="2.75"/>
<circle cx="1441.9" cy="1587.4" r="2.4" fill="#fff" fill-opacity="0.55" stroke="#000" stroke-width="0.65"/><circle cx="1439.6" cy="1587.7" r="2.75"/>
<circle cx="1441.9" cy="1596.8" r="2.4" fill="#fff" fill-opacity="0.55" stroke="#000" stroke-width="0.65"/><circle cx="1439.6" cy="1597.1" r="2.75"/>
<circle cx="1431.3" cy="1601.3" r="2.4" fill="#fff" fill-opacity="0.55" stroke="#000" stroke-width="0.65"/><circle cx="1429" cy="1601.6" r="2.75"/>
<line x1="1008.6" y1="1564.1" x2="1008.6" y2="1579" stroke="#000" stroke-width="5" stroke-linecap="butt"/>
<line x1="990.5" y1="1564.1" x2="1028.5" y2="1564.1" stroke="#000" stroke-width="5" stroke-linecap="butt"/>
<circle cx="990.5" cy="1564.1" r="2.5"/>
<line x1="1124.6" y1="1550.8" x2="1124.6" y2="1557" stroke="#000" stroke-width="5" stroke-linecap="butt"/>
<line x1="1106.8" y1="1550.8" x2="1145" y2="1550.8" stroke="#000" stroke-width="5" stroke-linecap="butt"/>
<circle cx="1106.8" cy="1550.8" r="2.5"/>
<line x1="1318.5" y1="1571.6" x2="1318.5" y2="1577" stroke="#000" stroke-width="5" stroke-linecap="butt"/>
<line x1="1300.5" y1="1571.6" x2="1338.9" y2="1571.6" stroke="#000" stroke-width="5" stroke-linecap="butt"/>
<circle cx="1300.5" cy="1571.6" r="2.5"/>
<line x1="1434.9" y1="1569.3" x2="1434.9" y2="1578" stroke="#000" stroke-width="5" stroke-linecap="butt"/>
<line x1="1416.7" y1="1569.3" x2="1455.3" y2="1569.3" stroke="#000" stroke-width="5" stroke-linecap="butt"/>
<circle cx="1416.7" cy="1569.3" r="2.5"/>
<line x1="911.4" y1="1818.59" x2="1522.5" y2="1818.59" stroke="#000" stroke-width="5" stroke-linecap="round"/>
<line x1="932.4" y1="1381.2" x2="932.4" y2="1821.09" stroke="#000" stroke-width="5" stroke-linecap="round"/>
<line x1="911.4" y1="1383.2" x2="931.4" y2="1383.2" stroke="#000" stroke-width="5" stroke-linecap="round"/>
<text transform="translate(905.7 1395.5) scale(1 1.04)" font-size="34" text-anchor="end" stroke="#000" stroke-width="0.6">150</text>
<line x1="911.4" y1="1528.33" x2="931.4" y2="1528.33" stroke="#000" stroke-width="5" stroke-linecap="round"/>
<text transform="translate(905.7 1540.63) scale(1 1.04)" font-size="34" text-anchor="end" stroke="#000" stroke-width="0.6">100</text>
<line x1="911.4" y1="1673.46" x2="931.4" y2="1673.46" stroke="#000" stroke-width="5" stroke-linecap="round"/>
<text transform="translate(905.7 1685.76) scale(1 1.04)" font-size="34" text-anchor="end" stroke="#000" stroke-width="0.6">50</text>
<line x1="911.4" y1="1818.59" x2="931.4" y2="1818.59" stroke="#000" stroke-width="5" stroke-linecap="round"/>
<text transform="translate(905.7 1830.89) scale(1 1.04)" font-size="34" text-anchor="end" stroke="#000" stroke-width="0.6">0</text>
<text x="961.8" y="1424.1" font-size="51" fill="#070e30" stroke="#070e30" stroke-width="1" stroke-linejoin="round" style="font-family:&quot;DejaVu Sans&quot;,sans-serif">♀</text>
<rect x="1282" y="1376" width="26.5" height="28.6" fill="#55a0ff" stroke="#000" stroke-width="5"/>
<rect x="1282" y="1422.4" width="26.5" height="28.6" fill="#dd88f9" stroke="#000" stroke-width="5"/>
<text transform="translate(1326 1404.2) scale(1 1.0)" font-size="34" text-anchor="start" stroke="#000" stroke-width="0.6">GG control</text>
<text transform="translate(1326 1450.4) scale(1 1.0)" font-size="34" text-anchor="start" stroke="#000" stroke-width="0.6">CC variant</text>
<text transform="translate(1066.8 1867.7) scale(1 1.0)" font-size="34" text-anchor="middle" stroke="#000" stroke-width="0.6">Sub Fat</text>
<text transform="translate(1376.6 1867.9) scale(1 1.0)" font-size="34" text-anchor="middle" stroke="#000" stroke-width="0.6">Gonadal Fat</text>
<rect x="181.6" y="2407.9" width="72.6" height="43.5" fill="#4242ff" stroke="#000" stroke-width="5"/>
<rect x="298" y="2428.5" width="72.5" height="22.9" fill="#b94144" stroke="#000" stroke-width="5"/>
<rect x="491.5" y="2370.4" width="71.8" height="81" fill="#4242ff" stroke="#000" stroke-width="5"/>
<rect x="607.9" y="2304.6" width="72.6" height="146.8" fill="#b94144" stroke="#000" stroke-width="5"/>
<circle cx="344.8" cy="2411.8" r="2.4" fill="#fff" fill-opacity="0.55" stroke="#000" stroke-width="0.65"/><circle cx="342.5" cy="2412.1" r="2.75"/>
<circle cx="334.9" cy="2413.9" r="2.4" fill="#fff" fill-opacity="0.55" stroke="#000" stroke-width="0.65"/><circle cx="332.6" cy="2414.2" r="2.75"/>
<circle cx="334.9" cy="2418.5" r="2.4" fill="#fff" fill-opacity="0.55" stroke="#000" stroke-width="0.65"/><circle cx="332.6" cy="2418.8" r="2.75"/>
<circle cx="334.9" cy="2431.8" r="2.4" fill="#fff" fill-opacity="0.55" stroke="#000" stroke-width="0.65"/><circle cx="332.6" cy="2432.1" r="2.75"/>
<circle cx="325.5" cy="2432.4" r="2.4" fill="#fff" fill-opacity="0.55" stroke="#000" stroke-width="0.65"/><circle cx="323.2" cy="2432.7" r="2.75"/>
<circle cx="344.8" cy="2432.4" r="2.4" fill="#fff" fill-opacity="0.55" stroke="#000" stroke-width="0.65"/><circle cx="342.5" cy="2432.7" r="2.75"/>
<circle cx="325.5" cy="2437.7" r="2.4" fill="#fff" fill-opacity="0.55" stroke="#000" stroke-width="0.65"/><circle cx="323.2" cy="2438" r="2.75"/>
<circle cx="645.4" cy="2094.7" r="2.4" fill="#fff" fill-opacity="0.55" stroke="#000" stroke-width="0.65"/><circle cx="643.1" cy="2095" r="2.75"/>
<circle cx="645.4" cy="2123.1" r="2.4" fill="#fff" fill-opacity="0.55" stroke="#000" stroke-width="0.65"/><circle cx="643.1" cy="2123.4" r="2.75"/>
<circle cx="645.4" cy="2242.2" r="2.4" fill="#fff" fill-opacity="0.55" stroke="#000" stroke-width="0.65"/><circle cx="643.1" cy="2242.5" r="2.75"/>
<circle cx="645.4" cy="2293.8" r="2.4" fill="#fff" fill-opacity="0.55" stroke="#000" stroke-width="0.65"/><circle cx="643.1" cy="2294.1" r="2.75"/>
<circle cx="645.4" cy="2390" r="2.4" fill="#fff" fill-opacity="0.55" stroke="#000" stroke-width="0.65"/><circle cx="643.1" cy="2390.3" r="2.75"/>
<circle cx="645.4" cy="2395.6" r="2.4" fill="#fff" fill-opacity="0.55" stroke="#000" stroke-width="0.65"/><circle cx="643.1" cy="2395.9" r="2.75"/>
<circle cx="645.4" cy="2429.6" r="2.4" fill="#fff" fill-opacity="0.55" stroke="#000" stroke-width="0.65"/><circle cx="643.1" cy="2429.9" r="2.75"/>
<circle cx="645.4" cy="2438.7" r="2.4" fill="#fff" fill-opacity="0.55" stroke="#000" stroke-width="0.65"/><circle cx="643.1" cy="2439" r="2.75"/>
<rect x="215" y="2337.1" width="5" height="5" fill="#666" stroke="#000" stroke-width="0.5"/><rect x="213.7" y="2336.9" width="5.4" height="5.4"/>
<rect x="215" y="2393.5" width="5" height="5" fill="#666" stroke="#000" stroke-width="0.5"/><rect x="213.7" y="2393.3" width="5.4" height="5.4"/>
<rect x="224.9" y="2399.5" width="5" height="5" fill="#666" stroke="#000" stroke-width="0.5"/><rect x="223.6" y="2399.3" width="5.4" height="5.4"/>
<rect x="205.6" y="2403.5" width="5" height="5" fill="#666" stroke="#000" stroke-width="0.5"/><rect x="204.3" y="2403.3" width="5.4" height="5.4"/>
<rect x="215" y="2406.9" width="5" height="5" fill="#666" stroke="#000" stroke-width="0.5"/><rect x="213.7" y="2406.7" width="5.4" height="5.4"/>
<rect x="215" y="2417.3" width="5" height="5" fill="#666" stroke="#000" stroke-width="0.5"/><rect x="213.7" y="2417.1" width="5.4" height="5.4"/>
<rect x="215" y="2423.5" width="5" height="5" fill="#666" stroke="#000" stroke-width="0.5"/><rect x="213.7" y="2423.3" width="5.4" height="5.4"/>
<rect x="215" y="2440.1" width="5" height="5" fill="#666" stroke="#000" stroke-width="0.5"/><rect x="213.7" y="2439.9" width="5.4" height="5.4"/>
<rect x="524.9" y="2237.3" width="5" height="5" fill="#666" stroke="#000" stroke-width="0.5"/><rect x="523.6" y="2237.1" width="5.4" height="5.4"/>
<rect x="524.9" y="2309.2" width="5" height="5" fill="#666" stroke="#000" stroke-width="0.5"/><rect x="523.6" y="2309" width="5.4" height="5.4"/>
<rect x="514.8" y="2358.4" width="5" height="5" fill="#666" stroke="#000" stroke-width="0.5"/><rect x="513.5" y="2358.2" width="5.4" height="5.4"/>
<rect x="535.4" y="2358.4" width="5" height="5" fill="#666" stroke="#000" stroke-width="0.5"/><rect x="534.1" y="2358.2" width="5.4" height="5.4"/>
<rect x="524.9" y="2362.2" width="5" height="5" fill="#666" stroke="#000" stroke-width="0.5"/><rect x="523.6" y="2362" width="5.4" height="5.4"/>
<rect x="524.9" y="2391.6" width="5" height="5" fill="#666" stroke="#000" stroke-width="0.5"/><rect x="523.6" y="2391.4" width="5.4" height="5.4"/>
<rect x="514.8" y="2424.2" width="5" height="5" fill="#666" stroke="#000" stroke-width="0.5"/><rect x="513.5" y="2424" width="5.4" height="5.4"/>
<rect x="524.9" y="2422.3" width="5" height="5" fill="#666" stroke="#000" stroke-width="0.5"/><rect x="523.6" y="2422.1" width="5.4" height="5.4"/>
<rect x="535.4" y="2422.3" width="5" height="5" fill="#666" stroke="#000" stroke-width="0.5"/><rect x="534.1" y="2422.1" width="5.4" height="5.4"/>
<line x1="217.2" y1="2395.5" x2="217.2" y2="2407" stroke="#000" stroke-width="2.6" stroke-linecap="butt"/>
<line x1="198.3" y1="2395.5" x2="237.2" y2="2395.5" stroke="#000" stroke-width="2.6" stroke-linecap="butt"/>
<circle cx="198.3" cy="2395.5" r="1.3"/>
<line x1="333.2" y1="2422.5" x2="333.2" y2="2428" stroke="#000" stroke-width="2.6" stroke-linecap="butt"/>
<line x1="314.7" y1="2422.5" x2="353" y2="2422.5" stroke="#000" stroke-width="2.6" stroke-linecap="butt"/>
<circle cx="314.7" cy="2422.5" r="1.3"/>
<line x1="527" y1="2347.5" x2="527" y2="2370" stroke="#000" stroke-width="2.6" stroke-linecap="butt"/>
<line x1="508.3" y1="2347.5" x2="546.6" y2="2347.5" stroke="#000" stroke-width="2.6" stroke-linecap="butt"/>
<circle cx="508.3" cy="2347.5" r="1.3"/>
<line x1="643.9" y1="2252.6" x2="643.9" y2="2304" stroke="#000" stroke-width="2.6" stroke-linecap="butt"/>
<line x1="625.2" y1="2252.6" x2="663.4" y2="2252.6" stroke="#000" stroke-width="2.6" stroke-linecap="butt"/>
<circle cx="625.2" cy="2252.6" r="1.3"/>
<line x1="119.9" y1="2451.4" x2="723.2" y2="2451.4" stroke="#000" stroke-width="5" stroke-linecap="round"/>
<line x1="140.4" y1="2013.6" x2="140.4" y2="2453.9" stroke="#000" stroke-width="5" stroke-linecap="round"/>
<line x1="119.9" y1="2015.6" x2="139.4" y2="2015.6" stroke="#000" stroke-width="5" stroke-linecap="round"/>
<text transform="translate(114.2 2027.9) scale(1 1.04)" font-size="34" text-anchor="end" stroke="#000" stroke-width="0.6">0.50</text>
<line x1="119.9" y1="2233.5" x2="139.4" y2="2233.5" stroke="#000" stroke-width="5" stroke-linecap="round"/>
<text transform="translate(114.2 2245.8) scale(1 1.04)" font-size="34" text-anchor="end" stroke="#000" stroke-width="0.6">0.25</text>
<line x1="119.9" y1="2451.4" x2="139.4" y2="2451.4" stroke="#000" stroke-width="5" stroke-linecap="round"/>
<text transform="translate(114.2 2463.7) scale(1 1.04)" font-size="34" text-anchor="end" stroke="#000" stroke-width="0.6">0.00</text>
<text x="191.8" y="2056" font-size="51" fill="#070e30" stroke="#070e30" stroke-width="1" stroke-linejoin="round" style="font-family:&quot;DejaVu Sans&quot;,sans-serif">♂</text>
<rect x="505.5" y="2005.8" width="26.5" height="28.7" fill="#4242ff" stroke="#000" stroke-width="5"/>
<rect x="505.5" y="2052.2" width="26.5" height="28.7" fill="#990000" stroke="#000" stroke-width="5"/>
<text transform="translate(550 2033.5) scale(1 1.0)" font-size="34" text-anchor="start" stroke="#000" stroke-width="0.6">GG control</text>
<text transform="translate(550 2079.8) scale(1 1.0)" font-size="34" text-anchor="start" stroke="#000" stroke-width="0.6">CC variant</text>
<text transform="translate(24.2 2235) rotate(-90) scale(1 1.02)" font-size="34" text-anchor="middle" stroke="#000" stroke-width="0.6">M1:M2 ratio</text>
<text transform="translate(274.5 2498.3) scale(1 1.0)" font-size="34" text-anchor="middle" stroke="#000" stroke-width="0.6">Sub Fat</text>
<text transform="translate(584 2498.5) scale(1 1.0)" font-size="34" text-anchor="middle" stroke="#000" stroke-width="0.6">Gonadal Fat</text>
<rect x="961.6" y="2365.1" width="72.6" height="82.3" fill="#55a0ff" stroke="#000" stroke-width="5"/>
<rect x="1078.5" y="2416.5" width="72" height="30.9" fill="#dd88f9" stroke="#000" stroke-width="5"/>
<rect x="1271.9" y="2418.6" width="72" height="28.8" fill="#55a0ff" stroke="#000" stroke-width="5"/>
<rect x="1387.6" y="2413" width="72.8" height="34.4" fill="#dd88f9" stroke="#000" stroke-width="5"/>
<circle cx="1114.9" cy="2298.1" r="2.4" fill="#fff" fill-opacity="0.55" stroke="#000" stroke-width="0.65"/><circle cx="1112.6" cy="2298.4" r="2.75"/>
<circle cx="1114.9" cy="2412.3" r="2.4" fill="#fff" fill-opacity="0.55" stroke="#000" stroke-width="0.65"/><circle cx="1112.6" cy="2412.6" r="2.75"/>
<circle cx="1125" cy="2414.5" r="2.4" fill="#fff" fill-opacity="0.55" stroke="#000" stroke-width="0.65"/><circle cx="1122.7" cy="2414.8" r="2.75"/>
<circle cx="1125" cy="2421.1" r="2.4" fill="#fff" fill-opacity="0.55" stroke="#000" stroke-width="0.65"/><circle cx="1122.7" cy="2421.4" r="2.75"/>
<circle cx="1105" cy="2423" r="2.4" fill="#fff" fill-opacity="0.55" stroke="#000" stroke-width="0.65"/><circle cx="1102.7" cy="2423.3" r="2.75"/>
<circle cx="1114.9" cy="2424.9" r="2.4" fill="#fff" fill-opacity="0.55" stroke="#000" stroke-width="0.65"/><circle cx="1112.6" cy="2425.2" r="2.75"/>
<circle cx="1110.1" cy="2437.2" r="2.4" fill="#fff" fill-opacity="0.55" stroke="#000" stroke-width="0.65"/><circle cx="1107.8" cy="2437.5" r="2.75"/>
<circle cx="1120.2" cy="2437.7" r="2.4" fill="#fff" fill-opacity="0.55" stroke="#000" stroke-width="0.65"/><circle cx="1117.9" cy="2438" r="2.75"/>
<circle cx="1114.9" cy="2444.4" r="2.4" fill="#fff" fill-opacity="0.55" stroke="#000" stroke-width="0.65"/><circle cx="1112.6" cy="2444.7" r="2.75"/>
<circle cx="1424.5" cy="2363.2" r="2.4" fill="#fff" fill-opacity="0.55" stroke="#000" stroke-width="0.65"/><circle cx="1422.2" cy="2363.5" r="2.75"/>
<circle cx="1424.5" cy="2383.2" r="2.4" fill="#fff" fill-opacity="0.55" stroke="#000" stroke-width="0.65"/><circle cx="1422.2" cy="2383.5" r="2.75"/>
<circle cx="1424.5" cy="2389.5" r="2.4" fill="#fff" fill-opacity="0.55" stroke="#000" stroke-width="0.65"/><circle cx="1422.2" cy="2389.8" r="2.75"/>
<circle cx="1424.5" cy="2394.8" r="2.4" fill="#fff" fill-opacity="0.55" stroke="#000" stroke-width="0.65"/><circle cx="1422.2" cy="2395.1" r="2.75"/>
<circle cx="1419.4" cy="2423.1" r="2.4" fill="#fff" fill-opacity="0.55" stroke="#000" stroke-width="0.65"/><circle cx="1417.1" cy="2423.4" r="2.75"/>
<circle cx="1429.5" cy="2423.9" r="2.4" fill="#fff" fill-opacity="0.55" stroke="#000" stroke-width="0.65"/><circle cx="1427.2" cy="2424.2" r="2.75"/>
<circle cx="1414.4" cy="2440" r="2.4" fill="#fff" fill-opacity="0.55" stroke="#000" stroke-width="0.65"/><circle cx="1412.1" cy="2440.3" r="2.75"/>
<circle cx="1424.5" cy="2439" r="2.4" fill="#fff" fill-opacity="0.55" stroke="#000" stroke-width="0.65"/><circle cx="1422.2" cy="2439.3" r="2.75"/>
<circle cx="1434.3" cy="2440" r="2.4" fill="#fff" fill-opacity="0.55" stroke="#000" stroke-width="0.65"/><circle cx="1432" cy="2440.3" r="2.75"/>
<rect x="995" y="2184.5" width="5" height="5" fill="#666" stroke="#000" stroke-width="0.5"/><rect x="993.7" y="2184.3" width="5.4" height="5.4"/>
<rect x="995" y="2253.2" width="5" height="5" fill="#666" stroke="#000" stroke-width="0.5"/><rect x="993.7" y="2253" width="5.4" height="5.4"/>
<rect x="995" y="2333.9" width="5" height="5" fill="#666" stroke="#000" stroke-width="0.5"/><rect x="993.7" y="2333.7" width="5.4" height="5.4"/>
<rect x="989.6" y="2377.2" width="5" height="5" fill="#666" stroke="#000" stroke-width="0.5"/><rect x="988.3" y="2377" width="5.4" height="5.4"/>
<rect x="999.8" y="2374.8" width="5" height="5" fill="#666" stroke="#000" stroke-width="0.5"/><rect x="998.5" y="2374.6" width="5.4" height="5.4"/>
<rect x="995" y="2415.5" width="5" height="5" fill="#666" stroke="#000" stroke-width="0.5"/><rect x="993.7" y="2415.3" width="5.4" height="5.4"/>
<rect x="995" y="2423.2" width="5" height="5" fill="#666" stroke="#000" stroke-width="0.5"/><rect x="993.7" y="2423" width="5.4" height="5.4"/>
<rect x="989.6" y="2436.3" width="5" height="5" fill="#666" stroke="#000" stroke-width="0.5"/><rect x="988.3" y="2436.1" width="5.4" height="5.4"/>
<rect x="999.8" y="2434.7" width="5" height="5" fill="#666" stroke="#000" stroke-width="0.5"/><rect x="998.5" y="2434.5" width="5.4" height="5.4"/>
<rect x="1303.9" y="2351.4" width="5" height="5" fill="#666" stroke="#000" stroke-width="0.5"/><rect x="1302.6" y="2351.2" width="5.4" height="5.4"/>
<rect x="1294.6" y="2406.5" width="5" height="5" fill="#666" stroke="#000" stroke-width="0.5"/><rect x="1293.3" y="2406.3" width="5.4" height="5.4"/>
<rect x="1303.9" y="2408.3" width="5" height="5" fill="#666" stroke="#000" stroke-width="0.5"/><rect x="1302.6" y="2408.1" width="5.4" height="5.4"/>
<rect x="1314" y="2405.7" width="5" height="5" fill="#666" stroke="#000" stroke-width="0.5"/><rect x="1312.7" y="2405.5" width="5.4" height="5.4"/>
<rect x="1303.9" y="2429.7" width="5" height="5" fill="#666" stroke="#000" stroke-width="0.5"/><rect x="1302.6" y="2429.5" width="5.4" height="5.4"/>
<rect x="1314" y="2427.2" width="5" height="5" fill="#666" stroke="#000" stroke-width="0.5"/><rect x="1312.7" y="2427" width="5.4" height="5.4"/>
<rect x="1314" y="2434" width="5" height="5" fill="#666" stroke="#000" stroke-width="0.5"/><rect x="1312.7" y="2433.8" width="5.4" height="5.4"/>
<rect x="1294.6" y="2436.8" width="5" height="5" fill="#666" stroke="#000" stroke-width="0.5"/><rect x="1293.3" y="2436.6" width="5.4" height="5.4"/>
<line x1="997.1" y1="2332.7" x2="997.1" y2="2364" stroke="#000" stroke-width="2.6" stroke-linecap="butt"/>
<line x1="978.3" y1="2332.7" x2="1016.9" y2="2332.7" stroke="#000" stroke-width="2.6" stroke-linecap="butt"/>
<circle cx="978.3" cy="2332.7" r="1.3"/>
<line x1="1113.7" y1="2400.3" x2="1113.7" y2="2416" stroke="#000" stroke-width="2.6" stroke-linecap="butt"/>
<line x1="1095.2" y1="2400.3" x2="1133.5" y2="2400.3" stroke="#000" stroke-width="2.6" stroke-linecap="butt"/>
<circle cx="1095.2" cy="2400.3" r="1.3"/>
<line x1="1306.5" y1="2407" x2="1306.5" y2="2418" stroke="#000" stroke-width="2.6" stroke-linecap="butt"/>
<line x1="1288.3" y1="2407" x2="1327" y2="2407" stroke="#000" stroke-width="2.6" stroke-linecap="butt"/>
<circle cx="1288.3" cy="2407" r="1.3"/>
<line x1="1424" y1="2401.4" x2="1424" y2="2412" stroke="#000" stroke-width="2.6" stroke-linecap="butt"/>
<line x1="1404.6" y1="2401.4" x2="1444" y2="2401.4" stroke="#000" stroke-width="2.6" stroke-linecap="butt"/>
<circle cx="1404.6" cy="2401.4" r="1.3"/>
<line x1="899.9" y1="2447.4" x2="1503.4" y2="2447.4" stroke="#000" stroke-width="5" stroke-linecap="round"/>
<line x1="920.4" y1="2009.8" x2="920.4" y2="2449.9" stroke="#000" stroke-width="5" stroke-linecap="round"/>
<line x1="899.9" y1="2011.8" x2="919.4" y2="2011.8" stroke="#000" stroke-width="5" stroke-linecap="round"/>
<text transform="translate(894.2 2024.1) scale(1 1.04)" font-size="34" text-anchor="end" stroke="#000" stroke-width="0.6">0.50</text>
<line x1="899.9" y1="2229.6" x2="919.4" y2="2229.6" stroke="#000" stroke-width="5" stroke-linecap="round"/>
<text transform="translate(894.2 2241.9) scale(1 1.04)" font-size="34" text-anchor="end" stroke="#000" stroke-width="0.6">0.25</text>
<line x1="899.9" y1="2447.4" x2="919.4" y2="2447.4" stroke="#000" stroke-width="5" stroke-linecap="round"/>
<text transform="translate(894.2 2459.7) scale(1 1.04)" font-size="34" text-anchor="end" stroke="#000" stroke-width="0.6">0.00</text>
<text x="961.3" y="2049.9" font-size="51" fill="#070e30" stroke="#070e30" stroke-width="1" stroke-linejoin="round" style="font-family:&quot;DejaVu Sans&quot;,sans-serif">♀</text>
<rect x="1284.8" y="2002.9" width="26.5" height="28.4" fill="#55a0ff" stroke="#000" stroke-width="5"/>
<rect x="1284.8" y="2049.3" width="26.5" height="28.4" fill="#dd88f9" stroke="#000" stroke-width="5"/>
<text transform="translate(1329 2030.5) scale(1 1.0)" font-size="34" text-anchor="start" stroke="#000" stroke-width="0.6">GG control</text>
<text transform="translate(1329 2076.9) scale(1 1.0)" font-size="34" text-anchor="start" stroke="#000" stroke-width="0.6">CC variant</text>
<text transform="translate(1054 2495.5) scale(1 1.0)" font-size="34" text-anchor="middle" stroke="#000" stroke-width="0.6">Sub Fat</text>
<text transform="translate(1363.2 2495.4) scale(1 1.0)" font-size="34" text-anchor="middle" stroke="#000" stroke-width="0.6">Gonadal Fat</text>
</svg>
</body>
</html>
